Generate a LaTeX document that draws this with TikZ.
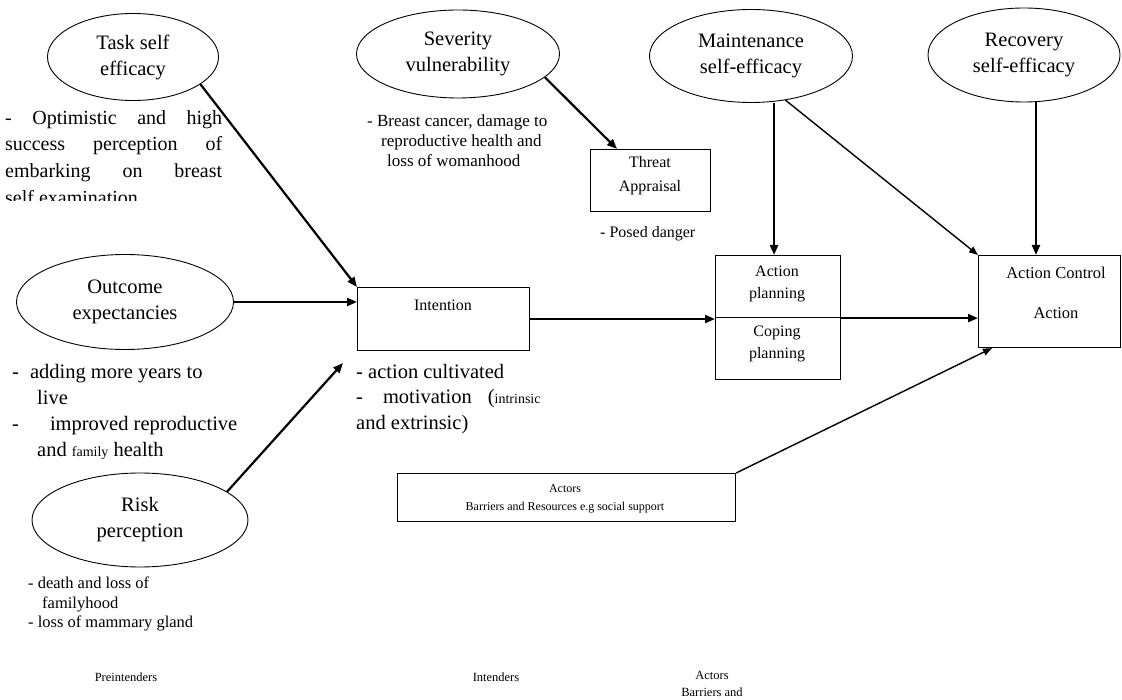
\documentclass[tikz,border=0pt]{standalone}
\usepackage{fontspec}
\setmainfont{Liberation Serif}
\usetikzlibrary{arrows.meta,shapes.geometric}
\begin{document}
\begin{tikzpicture}[x=1pt,y=-1pt,
  ell/.style={draw, line width=0.9pt, ellipse, inner sep=0pt, align=center, font=\fontsize{20.5}{26}\selectfont},
  box/.style={draw, line width=1.1pt, rectangle, inner sep=0pt, anchor=north west},
  txt/.style={inner sep=0pt, align=left, anchor=north west},
  lbl/.style={inner sep=0pt, align=center},
  arr/.style={-{Triangle[length=10pt,width=8pt]}, line width=2.2pt},
  tarr/.style={-{Triangle[length=9pt,width=7pt]}, line width=1.4pt},
]
\useasboundingbox (0,0) rectangle (1122,700);

% ellipses
\node[ell, minimum width=171pt, minimum height=87pt] (task) at (133,57) {Task self\\efficacy};
\node[ell, minimum width=203pt, minimum height=88pt] (sev) at (458,54) {Severity\\vulnerability};
\node[ell, minimum width=203pt, minimum height=93pt] (maint) at (751,56) {Maintenance\\self-efficacy};
\node[ell, minimum width=192pt, minimum height=94pt] (rec) at (1024,55) {Recovery\\self-efficacy};
\node[ell, minimum width=217pt, minimum height=95pt] (out) at (125,302) {Outcome\\expectancies};
\node[ell, minimum width=216pt, minimum height=94pt] (risk) at (140,520) {Risk\\perception};

% boxes
\node[box, minimum width=120pt, minimum height=62pt] (threat) at (590,149) {};
\node[lbl, font=\fontsize{16}{24}\selectfont] (threatl) at (650,176) {Threat\\Appraisal};
\node[box, minimum width=172pt, minimum height=63pt] (int) at (357,287) {};
\node[lbl, font=\fontsize{16}{20}\selectfont] (intl) at (443,305) {Intention};
\node[box, minimum width=125pt, minimum height=62pt] (apt) at (715,255) {};
\node[box, minimum width=125pt, minimum height=62pt] (apb) at (715,317) {};
\node[lbl, font=\fontsize{16}{22}\selectfont] (aptl) at (777,284) {Action\\planning};
\node[lbl, font=\fontsize{16}{22}\selectfont] (apbl) at (777,344) {Coping\\planning};
\node[box, minimum width=142pt, minimum height=92pt] (ac) at (978,255) {};
\node[lbl, font=\fontsize{16.5}{40}\selectfont] (acl) at (1056,293) {Action Control\\Action};
\node[box, minimum width=338pt, minimum height=48pt] (act) at (397,473) {};
\node[lbl, font=\fontsize{12}{18}\selectfont] (actl) at (565,499) {Actors\\Barriers and Resources e.g social support};

% descriptive texts
\begin{scope}
\clip (0,100) rectangle (300,201);
\node[txt, font=\fontsize{20}{26.7}\selectfont] (tasktxt) at (5,110)
  {\makebox[217pt][s]{- Optimistic and high}\\
   \makebox[217pt][s]{success perception of}\\
   \makebox[217pt][s]{embarking on breast}\\
   self examination};
\end{scope}
\node[txt, font=\fontsize{17}{20}\selectfont] (sevtxt) at (367,115)
  {- Breast cancer, damage to\\
   \hspace*{14pt}reproductive health and\\
   \hspace*{20pt}loss of womanhood};
\node[txt, font=\fontsize{16}{20}\selectfont] (posed) at (600,226) {- Posed danger};
\node[txt, font=\fontsize{20.5}{26}\selectfont] (outtxt) at (12,364)
  {-\hspace{11pt}adding more years to\\
   \hspace*{25pt}live\\
   -\hspace{31pt}improved reproductive\\
   \hspace*{25pt}and {\fontsize{14}{26}\selectfont family} health};
\node[txt, font=\fontsize{20.5}{25.5}\selectfont] (inttxt) at (356,364)
  {- action cultivated\\
   -\hspace{20pt}motivation\hspace{16pt}({\fontsize{14}{25}\selectfont intrinsic}\\
   and extrinsic)};
\node[txt, font=\fontsize{16.5}{19.5}\selectfont] (risktxt) at (28,577)
  {- death and loss of\\
   \hspace*{14pt}familyhood\\
   - loss of mammary gland};

% stage labels
\node[lbl, font=\fontsize{12.5}{17}\selectfont] (pre) at (126,677) {Preintenders};
\node[lbl, font=\fontsize{12.5}{17}\selectfont] (intd) at (496,677) {Intenders};
\node[lbl, font=\fontsize{12.5}{17}\selectfont] (acts) at (712,684) {Actors\\Barriers and};

% connectors
\coordinate (riskend) at (343,363);
\draw[arr] (task.-22) -- (int.north west);
\draw[arr] (sev.-15) -- ([xshift=27pt]threat.north west);
\draw[arr] ([xshift=-4pt]apt.north |- maint.south) -- ([xshift=-4pt]apt.north);
\draw[tarr] (maint.-52) -- (ac.north west);
\draw[arr] ([xshift=12pt]rec.south) -- ([xshift=12pt]rec.south |- ac.north);
\draw[arr] (out.east) -- (out.east -| int.west);
\draw[arr] (int.east) -- (int.east -| apt.west);
\draw[arr] (apt.south east) -- (apt.south east -| ac.west);
\draw[tarr] (act.north east) -- ([xshift=14pt]ac.south west);
\draw[arr] (risk.18) -- (riskend);
\end{tikzpicture}
\end{document}
